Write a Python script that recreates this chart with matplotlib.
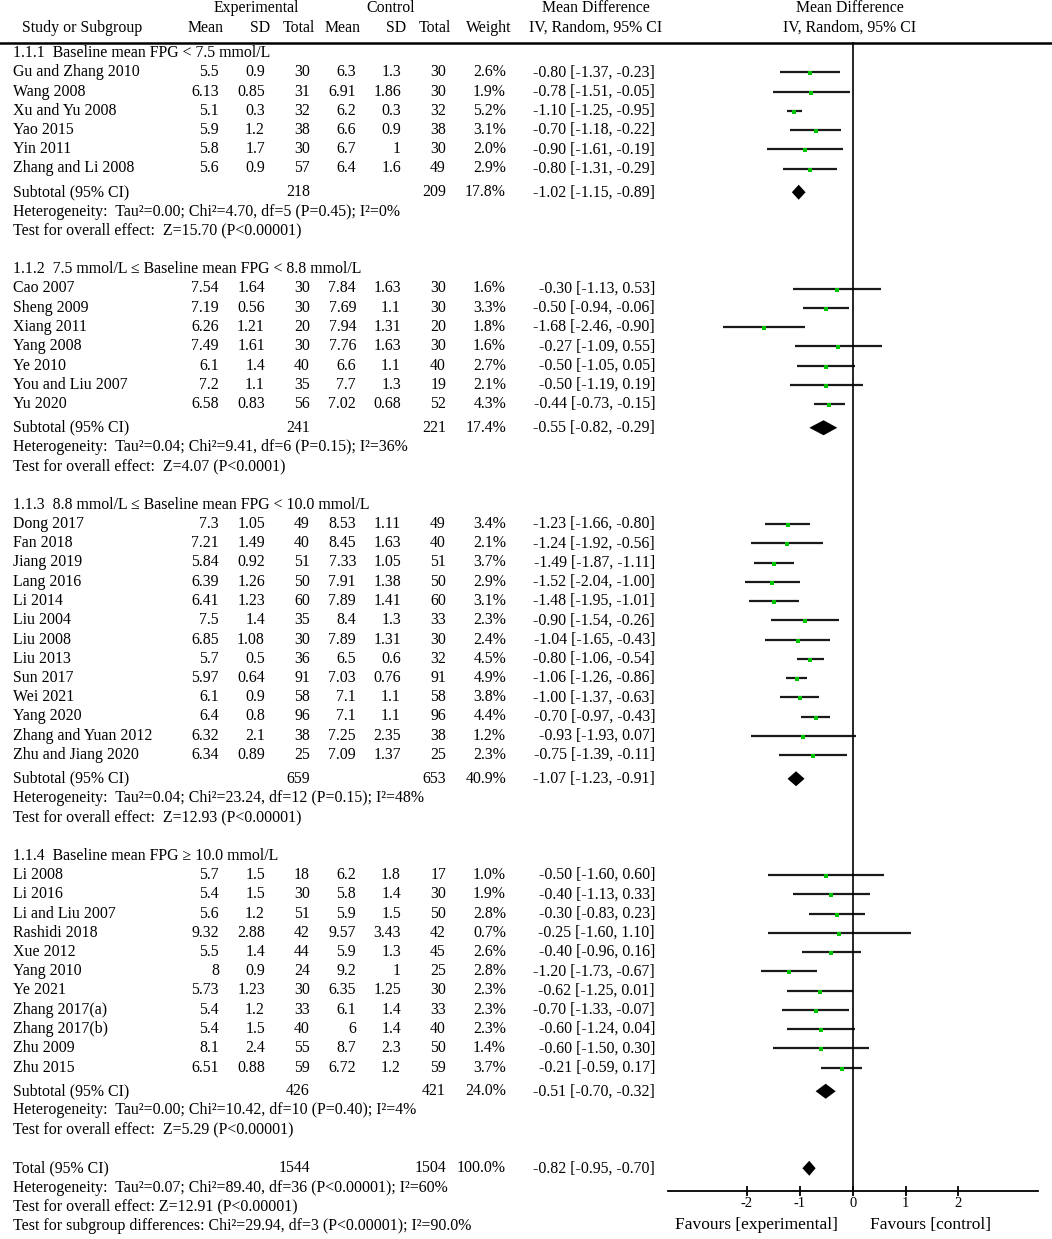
import matplotlib
matplotlib.use("Agg")
import matplotlib.pyplot as plt

plt.rcParams['font.family'] = ['Liberation Serif', 'DejaVu Serif']
plt.rcParams['axes.unicode_minus'] = False

#%%----- data ------------------------------------------------------------------
group_titles = ["1.1.1  Baseline mean FPG < 7.5 mmol/L",
                "1.1.2  7.5 mmol/L \u2264 Baseline mean FPG < 8.8 mmol/L",
                "1.1.3  8.8 mmol/L \u2264 Baseline mean FPG < 10.0 mmol/L",
                "1.1.4  Baseline mean FPG \u2265 10.0 mmol/L"]

study = ["Gu and Zhang 2010", "Wang 2008", "Xu and Yu 2008", "Yao 2015", "Yin 2011", "Zhang and Li 2008",
         "Cao 2007", "Sheng 2009", "Xiang 2011", "Yang 2008", "Ye 2010", "You and Liu 2007", "Yu 2020",
         "Dong 2017", "Fan 2018", "Jiang 2019", "Lang 2016", "Li 2014", "Liu 2004", "Liu 2008", "Liu 2013",
         "Sun 2017", "Wei 2021", "Yang 2020", "Zhang and Yuan 2012", "Zhu and Jiang 2020",
         "Li 2008", "Li 2016", "Li and Liu 2007", "Rashidi 2018", "Xue 2012", "Yang 2010", "Ye 2021",
         "Zhang 2017(a)", "Zhang 2017(b)", "Zhu 2009", "Zhu 2015"]
group = [0]*6 + [1]*7 + [2]*13 + [3]*11

exp_mean = [5.5, 6.13, 5.1, 5.9, 5.8, 5.6,
            7.54, 7.19, 6.26, 7.49, 6.1, 7.2, 6.58,
            7.3, 7.21, 5.84, 6.39, 6.41, 7.5, 6.85, 5.7, 5.97, 6.1, 6.4, 6.32, 6.34,
            5.7, 5.4, 5.6, 9.32, 5.5, 8, 5.73, 5.4, 5.4, 8.1, 6.51]
exp_sd = [0.9, 0.85, 0.3, 1.2, 1.7, 0.9,
          1.64, 0.56, 1.21, 1.61, 1.4, 1.1, 0.83,
          1.05, 1.49, 0.92, 1.26, 1.23, 1.4, 1.08, 0.5, 0.64, 0.9, 0.8, 2.1, 0.89,
          1.5, 1.5, 1.2, 2.88, 1.4, 0.9, 1.23, 1.2, 1.5, 2.4, 0.88]
exp_n = [30, 31, 32, 38, 30, 57,
         30, 30, 20, 30, 40, 35, 56,
         49, 40, 51, 50, 60, 35, 30, 36, 91, 58, 96, 38, 25,
         18, 30, 51, 42, 44, 24, 30, 33, 40, 55, 59]
ctl_mean = [6.3, 6.91, 6.2, 6.6, 6.7, 6.4,
            7.84, 7.69, 7.94, 7.76, 6.6, 7.7, 7.02,
            8.53, 8.45, 7.33, 7.91, 7.89, 8.4, 7.89, 6.5, 7.03, 7.1, 7.1, 7.25, 7.09,
            6.2, 5.8, 5.9, 9.57, 5.9, 9.2, 6.35, 6.1, 6, 8.7, 6.72]
ctl_sd = [1.3, 1.86, 0.3, 0.9, 1, 1.6,
          1.63, 1.1, 1.31, 1.63, 1.1, 1.3, 0.68,
          1.11, 1.63, 1.05, 1.38, 1.41, 1.3, 1.31, 0.6, 0.76, 1.1, 1.1, 2.35, 1.37,
          1.8, 1.4, 1.5, 3.43, 1.3, 1, 1.25, 1.4, 1.4, 2.3, 1.2]
ctl_n = [30, 30, 32, 38, 30, 49,
         30, 30, 20, 30, 40, 19, 52,
         49, 40, 51, 50, 60, 33, 30, 32, 91, 58, 96, 38, 25,
         17, 30, 50, 42, 45, 25, 30, 33, 40, 50, 59]
weight = [2.6, 1.9, 5.2, 3.1, 2.0, 2.9,
          1.6, 3.3, 1.8, 1.6, 2.7, 2.1, 4.3,
          3.4, 2.1, 3.7, 2.9, 3.1, 2.3, 2.4, 4.5, 4.9, 3.8, 4.4, 1.2, 2.3,
          1.0, 1.9, 2.8, 0.7, 2.6, 2.8, 2.3, 2.3, 2.3, 1.4, 3.7]
md = [-0.80, -0.78, -1.10, -0.70, -0.90, -0.80,
      -0.30, -0.50, -1.68, -0.27, -0.50, -0.50, -0.44,
      -1.23, -1.24, -1.49, -1.52, -1.48, -0.90, -1.04, -0.80, -1.06, -1.00, -0.70, -0.93, -0.75,
      -0.50, -0.40, -0.30, -0.25, -0.40, -1.20, -0.62, -0.70, -0.60, -0.60, -0.21]
ci_lo = [-1.37, -1.51, -1.25, -1.18, -1.61, -1.31,
         -1.13, -0.94, -2.46, -1.09, -1.05, -1.19, -0.73,
         -1.66, -1.92, -1.87, -2.04, -1.95, -1.54, -1.65, -1.06, -1.26, -1.37, -0.97, -1.93, -1.39,
         -1.60, -1.13, -0.83, -1.60, -0.96, -1.73, -1.25, -1.33, -1.24, -1.50, -0.59]
ci_hi = [-0.23, -0.05, -0.95, -0.22, -0.19, -0.29,
         0.53, -0.06, -0.90, 0.55, 0.05, 0.19, -0.15,
         -0.80, -0.56, -1.11, -1.00, -1.01, -0.26, -0.43, -0.54, -0.86, -0.63, -0.43, 0.07, -0.11,
         0.60, 0.33, 0.23, 1.10, 0.16, -0.67, 0.01, -0.07, 0.04, 0.30, 0.17]

sub_exp_n = [218, 241, 659, 426]
sub_ctl_n = [209, 221, 653, 421]
sub_weight = [17.8, 17.4, 40.9, 24.0]
sub_md = [-1.02, -0.55, -1.07, -0.51]
sub_lo = [-1.15, -0.82, -1.23, -0.70]
sub_hi = [-0.89, -0.29, -0.91, -0.32]
sub_het = ["Heterogeneity:  Tau\u00b2=0.00; Chi\u00b2=4.70, df=5 (P=0.45); I\u00b2=0%",
           "Heterogeneity:  Tau\u00b2=0.04; Chi\u00b2=9.41, df=6 (P=0.15); I\u00b2=36%",
           "Heterogeneity:  Tau\u00b2=0.04; Chi\u00b2=23.24, df=12 (P=0.15); I\u00b2=48%",
           "Heterogeneity:  Tau\u00b2=0.00; Chi\u00b2=10.42, df=10 (P=0.40); I\u00b2=4%"]
sub_test = ["Test for overall effect:  Z=15.70 (P<0.00001)",
            "Test for overall effect:  Z=4.07 (P<0.0001)",
            "Test for overall effect:  Z=12.93 (P<0.00001)",
            "Test for overall effect:  Z=5.29 (P<0.00001)"]

tot_exp_n, tot_ctl_n, tot_weight = 1544, 1504, 100.0
tot_md, tot_lo, tot_hi = -0.82, -0.95, -0.70
tot_notes = ["Heterogeneity:  Tau\u00b2=0.07; Chi\u00b2=89.40, df=36 (P<0.00001); I\u00b2=60%",
             "Test for overall effect: Z=12.91 (P<0.00001)",
             "Test for subgroup differences: Chi\u00b2=29.94, df=3 (P<0.00001); I\u00b2=90.0%"]

ticks = [-2, -1, 0, 1, 2]

#%%----- layout ----------------------------------------------------------------
W, H = 1052, 1239
FS = 11.4
step, sub_gap = 19.25, 4.5
col_x = [219, 265, 310, 356, 401, 446, 506]   # right edges of number columns
ci_x = 655
green = '#00c400'

fig = plt.figure(figsize=(W/100, H/100), dpi=100)
ax = fig.add_axes([0, 0, 1, 1])
ax.set_xlim(0, W)
ax.set_ylim(H, 0)
ax.axis('off')

x0, x1 = 667.5, 1037.8
fax = fig.add_axes([x0/W, 0, (x1-x0)/W, 1])
fax.set_xlim(-3.5, 3.5)
fax.set_ylim(H, 0)
fax.patch.set_alpha(0)
for s in ['left', 'right', 'top']:
    fax.spines[s].set_visible(False)
axis_y = 1190.5
fax.spines['bottom'].set_position(('data', axis_y))
fax.spines['bottom'].set_linewidth(1.3)
fax.set_yticks([])
fax.set_xticks(ticks)
fax.set_xticklabels([str(t) for t in ticks], fontsize=10.5)
fax.tick_params(axis='x', direction='inout', length=7, width=1.3, pad=1.5)

def txt(x, y, s, ha='left', **kw):
    ax.text(x, y, s, ha=ha, va='center', fontsize=FS, **kw)

# header
txt(256, 8, "Experimental", ha='center')
txt(391, 8, "Control", ha='center')
txt(596, 8, "Mean Difference", ha='center')
txt(850, 8, "Mean Difference", ha='center')
txt(22, 28, "Study or Subgroup")
for cx, h in zip(col_x, ["Mean", "SD", "Total", "Mean", "SD", "Total", "Weight"]):
    txt(cx + 5, 28, h, ha='right')
txt(596, 28, "IV, Random, 95% CI", ha='center')
txt(850, 28, "IV, Random, 95% CI", ha='center')
ax.plot([0, W], [43, 43], color='k', lw=1.8)

def diamond(y, m, lo, hi):
    fax.fill([lo, m, hi, m], [y, y - 7.5, y, y + 7.5], color='k', lw=0)

y = 53.0
for g in range(4):
    txt(13, y, group_titles[g])
    y += step
    for i in [k for k in range(len(study)) if group[k] == g]:
        vals = [f"{exp_mean[i]:g}", f"{exp_sd[i]:g}", str(exp_n[i]),
                f"{ctl_mean[i]:g}", f"{ctl_sd[i]:g}", str(ctl_n[i]), f"{weight[i]:.1f}%"]
        txt(13, y, study[i])
        for cx, v in zip(col_x, vals):
            txt(cx, y, v, ha='right')
        txt(ci_x, y, f"{md[i]:.2f} [{ci_lo[i]:.2f}, {ci_hi[i]:.2f}]", ha='right')
        fax.plot([ci_lo[i], ci_hi[i]], [y, y], color='#1a1a1a', lw=1.6, solid_capstyle='butt')
        fax.plot(md[i], y + 1, marker='s', color=green, ms=2.5 + 0.15 * weight[i], mew=0)
        y += step
    y += sub_gap
    txt(13, y, "Subtotal (95% CI)")
    txt(col_x[2], y, str(sub_exp_n[g]), ha='right')
    txt(col_x[5], y, str(sub_ctl_n[g]), ha='right')
    txt(col_x[6], y, f"{sub_weight[g]:.1f}%", ha='right')
    txt(ci_x, y, f"{sub_md[g]:.2f} [{sub_lo[g]:.2f}, {sub_hi[g]:.2f}]", ha='right')
    diamond(y, sub_md[g], sub_lo[g], sub_hi[g])
    y += step
    txt(13, y, sub_het[g])
    y += step
    txt(13, y, sub_test[g])
    y += 2 * step

txt(13, y, "Total (95% CI)")
txt(col_x[2], y, str(tot_exp_n), ha='right')
txt(col_x[5], y, str(tot_ctl_n), ha='right')
txt(col_x[6], y, f"{tot_weight:.1f}%", ha='right')
txt(ci_x, y, f"{tot_md:.2f} [{tot_lo:.2f}, {tot_hi:.2f}]", ha='right')
diamond(y, tot_md, tot_lo, tot_hi)
for note in tot_notes:
    y += step
    txt(13, y, note)

# line of no effect
fax.plot([0, 0], [43, axis_y], color='k', lw=1.2)

ax.text(756, 1225, "Favours [experimental]", ha='center', va='center', fontsize=12.5)
ax.text(930, 1225, "Favours [control]", ha='center', va='center', fontsize=12.5)

fig.savefig('out.png', dpi=100)
